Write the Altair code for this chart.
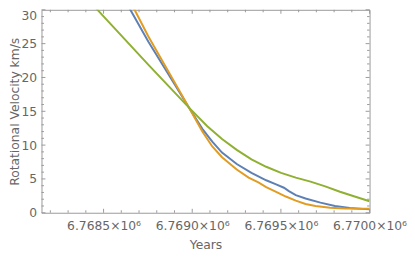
import altair as alt
import pandas as pd

# ---- data ----
years_blue = [6768600, 6768651, 6768752, 6768983, 6769057, 6769113, 6769168, 6769251,
              6769334, 6769417, 6769473, 6769517, 6769545, 6769584, 6769639, 6769723,
              6769805, 6769888, 6770000]
vel_blue = [32.7, 30.0, 25.3, 15.5, 12.4, 10.5, 8.9, 7.2,
            5.9, 4.8, 4.2, 3.7, 3.2, 2.6, 2.1, 1.5,
            1.0, 0.7, 0.5]

years_orange = [6768600, 6768675, 6768752, 6768983, 6769057, 6769113, 6769168, 6769251,
                6769318, 6769373, 6769417, 6769473, 6769528, 6769584, 6769639, 6769695,
                6769778, 6769861, 6770000]
vel_orange = [34.0, 30.0, 26.1, 15.5, 12.0, 9.8, 8.2, 6.4,
              5.2, 4.5, 3.8, 3.1, 2.4, 1.8, 1.3, 1.0,
              0.75, 0.62, 0.6]

years_green = [6768400, 6768466, 6768752, 6768983, 6769085, 6769168, 6769251, 6769334,
               6769417, 6769501, 6769584, 6769667, 6769750, 6769833, 6769916, 6770000]
vel_green = [31.9, 30.0, 21.9, 15.5, 12.8, 10.9, 9.3, 7.9,
             6.8, 5.9, 5.2, 4.6, 3.9, 3.1, 2.4, 1.7]

series_names = ["Series 1", "Series 2", "Series 3"]
series_colors = ["#5E81B5", "#E19C24", "#8FB032"]

x_domain = [6768150, 6770000]
y_domain = [0, 30]
x_major = [6768500, 6769000, 6769500, 6770000]
x_minor = [v for v in range(6768200, 6770000, 100) if v not in x_major]
y_major = [0, 5, 10, 15, 20, 25, 30]
y_minor = [v for v in range(1, 30) if v not in y_major]

# ---- tables ----
rows = []
for name, xs, ys in zip(series_names,
                        [years_blue, years_orange, years_green],
                        [vel_blue, vel_orange, vel_green]):
    for x, y in zip(xs, ys):
        rows.append({"series": name, "year": x, "v": y})
df = pd.DataFrame(rows)

W, H = 333, 206
FONT = "DejaVu Sans"
GRAY = "#999999"

xscale = alt.Scale(domain=x_domain, nice=False, zero=False)
yscale = alt.Scale(domain=y_domain, nice=False, zero=True)

x_axis = alt.Axis(values=x_major,
                  labelExpr="format(datum.value / 1e6, '.4f') + '×10⁶'",
                  labelBaseline="alphabetic", labelPadding=17.5,
                  titleBaseline="alphabetic", titleY=36)
y_axis = alt.Axis(values=y_major, labelPadding=5,
                  labelBaseline={"condition": {"test": "datum.value >= 30", "value": "top"},
                                 "value": "middle"},
                  titleX=-33, titleBaseline="top")
XT = "Years"
YT = "Rotational Velocity km/s"

lines = alt.Chart(df).mark_line(strokeWidth=2, clip=True).encode(
    x=alt.X("year:Q", scale=xscale, title=XT, axis=x_axis),
    y=alt.Y("v:Q", scale=yscale, title=YT, axis=y_axis),
    color=alt.Color("series:N", scale=alt.Scale(domain=series_names, range=series_colors),
                    legend=None),
)

ymaj = pd.DataFrame({"v": y_major})
ymin = pd.DataFrame({"v": y_minor})
xmaj = pd.DataFrame({"year": x_major})
xmin = pd.DataFrame({"year": x_minor})

def yticks(data, length):
    left = alt.Chart(data).mark_rule(color=GRAY, strokeWidth=1).encode(
        y=alt.Y("v:Q", scale=yscale, title=YT, axis=y_axis),
        x=alt.value(0), x2=alt.value(length))
    right = alt.Chart(data).mark_rule(color=GRAY, strokeWidth=1).encode(
        y=alt.Y("v:Q", scale=yscale, title=YT, axis=y_axis),
        x=alt.value(W), x2=alt.value(W - length))
    return [left, right]

def xticks(data, length):
    bottom = alt.Chart(data).mark_rule(color=GRAY, strokeWidth=1).encode(
        x=alt.X("year:Q", scale=xscale, title=XT, axis=x_axis),
        y=alt.value(H), y2=alt.value(H - length))
    top = alt.Chart(data).mark_rule(color=GRAY, strokeWidth=1).encode(
        x=alt.X("year:Q", scale=xscale, title=XT, axis=x_axis),
        y=alt.value(0), y2=alt.value(length))
    return [bottom, top]

layers = [lines] + yticks(ymaj, 4) + yticks(ymin, 2.5) + xticks(xmaj, 4) + xticks(xmin, 2.5)
chart = alt.layer(*layers).properties(
    width=W, height=H,
    autosize=alt.AutoSizeParams(type="none"),
    padding={"left": 34, "top": 0, "right": 38, "bottom": 38},
).configure_view(
    stroke=GRAY, strokeWidth=1
).configure_axis(
    domain=False, ticks=False, tickSize=0, grid=False,
    labelFont=FONT, labelFontSize=12.5, labelColor="#666666",
    titleFont=FONT, titleFontSize=12.5, titleColor="#666666", titleFontWeight="normal",
    labelOverlap=False, labelFlush=False,
)

chart.save("out.html", embed_options={"renderer": "svg", "actions": False})
